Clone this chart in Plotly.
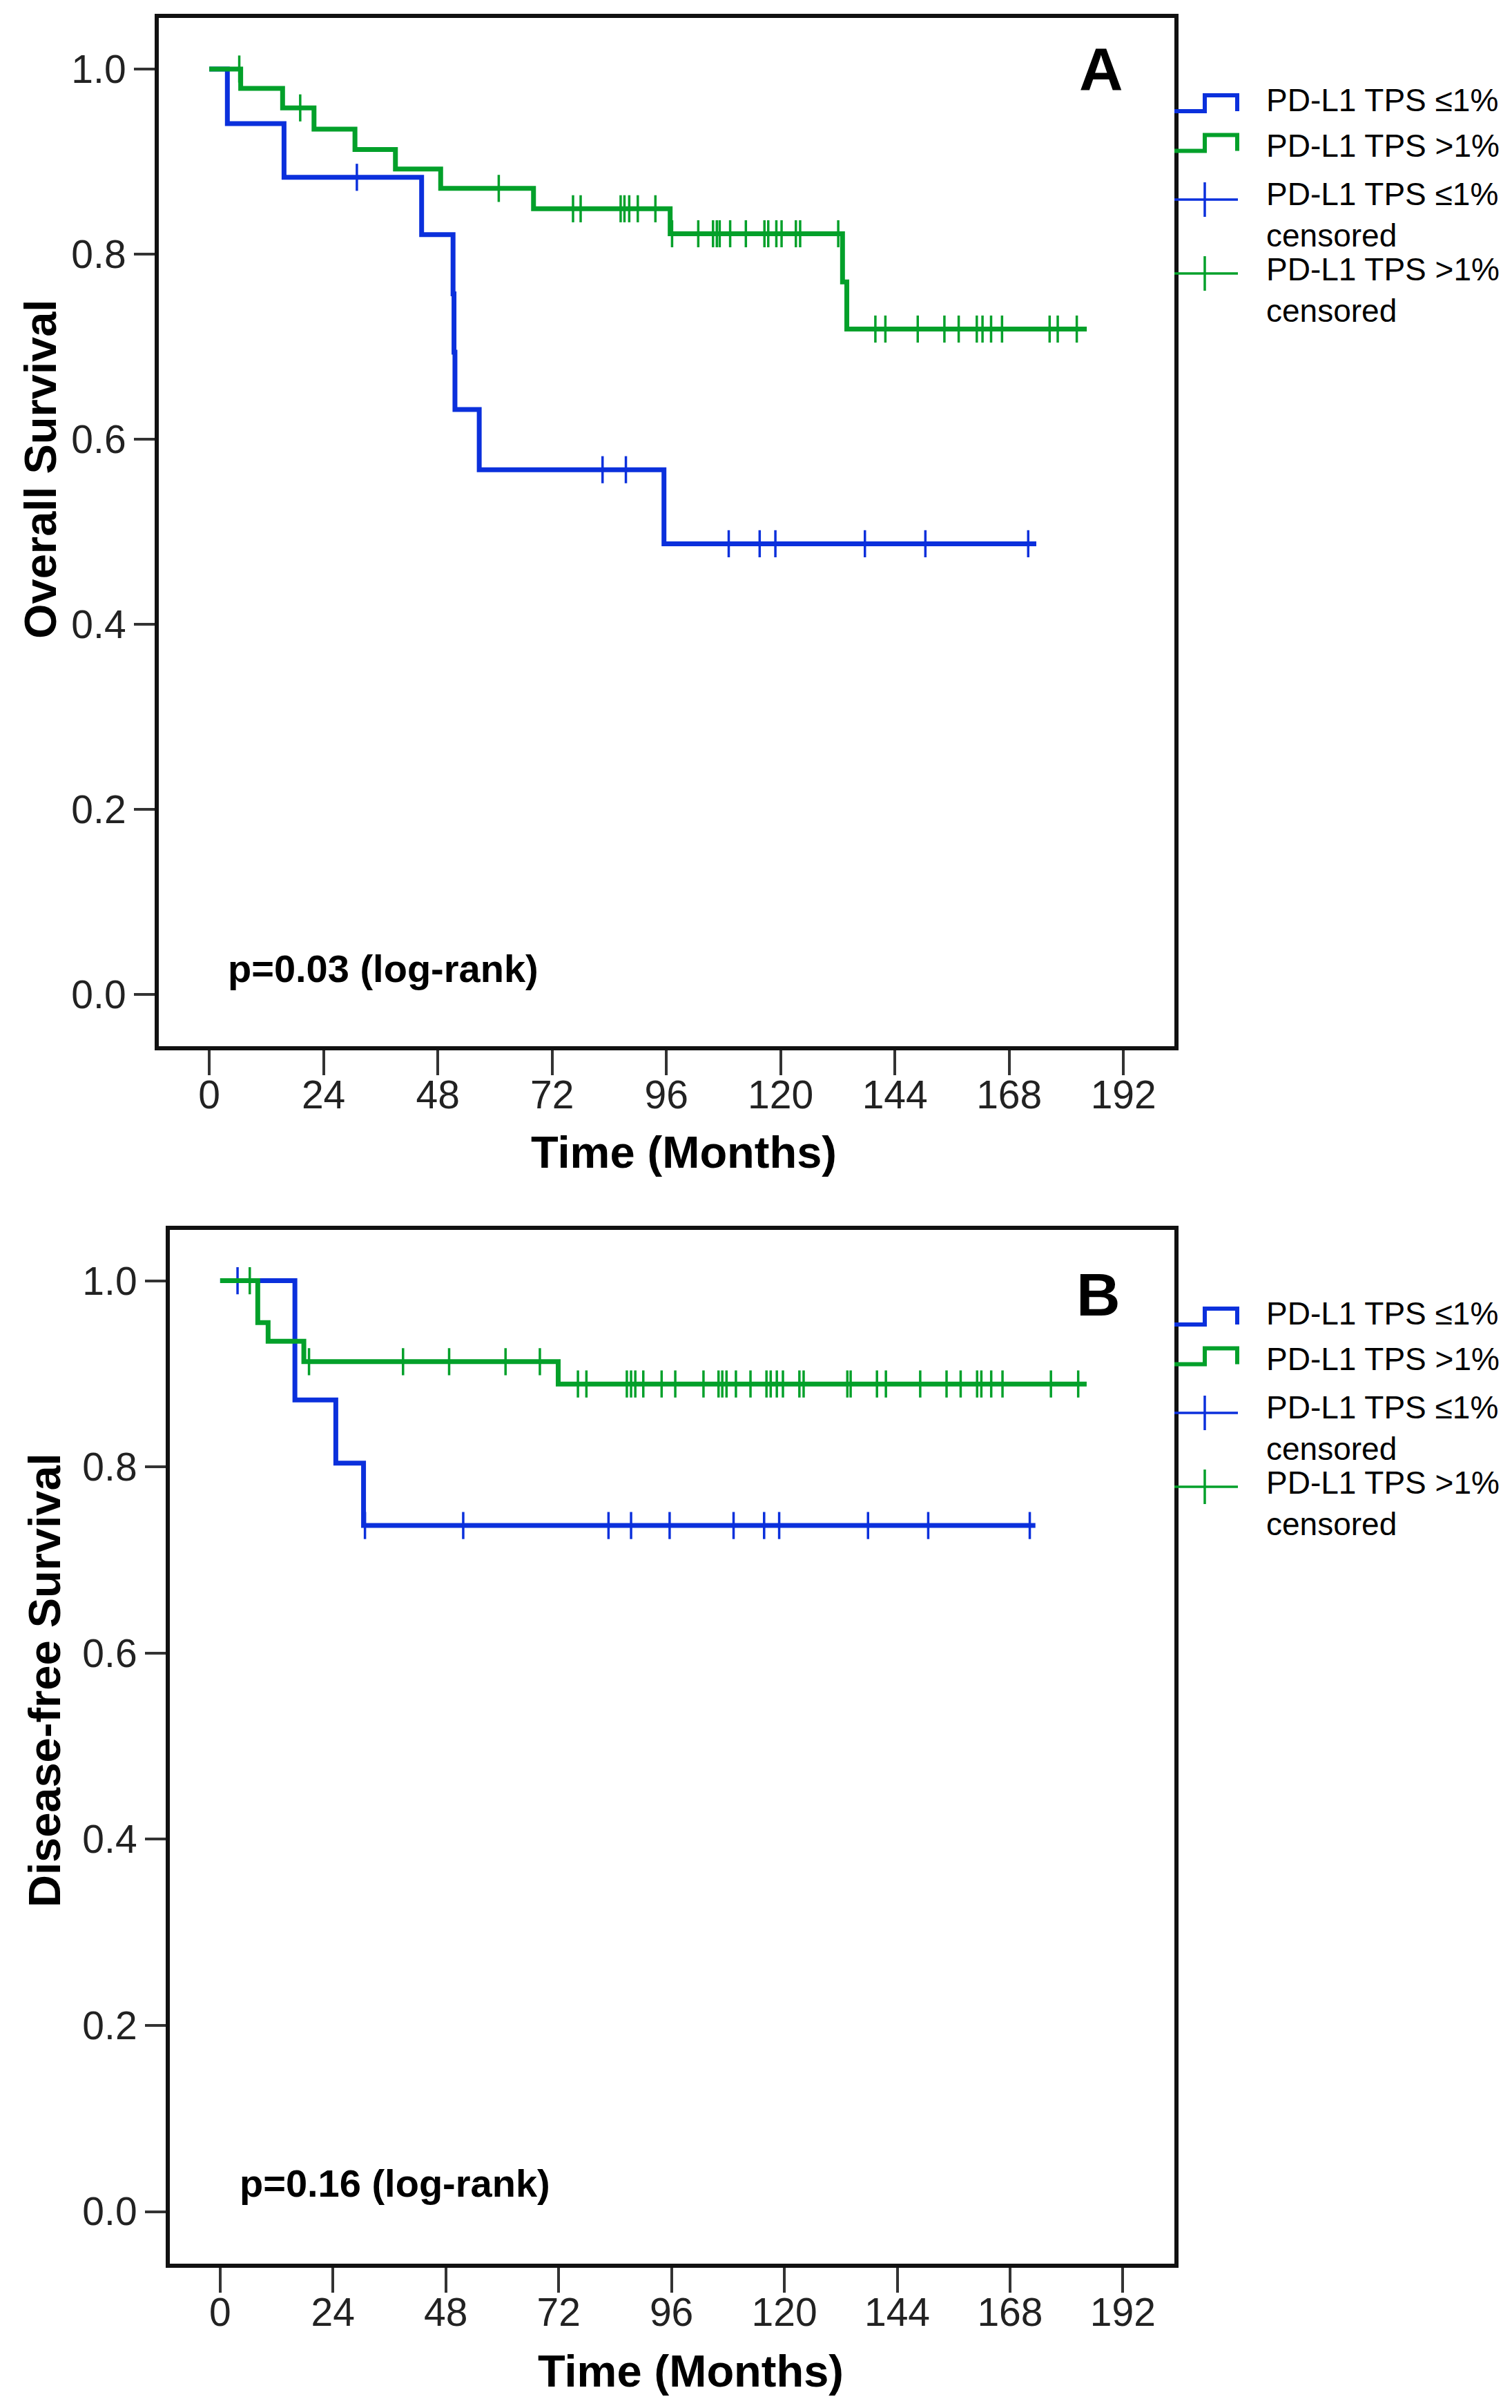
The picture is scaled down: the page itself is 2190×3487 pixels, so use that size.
import numpy as np
import plotly.graph_objects as go

W, H = 2190, 3487
BLUE = "#0b30dc"
GREEN = "#03a02a"
FONT = "Liberation Sans, Arial, sans-serif"

# Panel A - overall survival (months, KM estimate)
os_low_time = [0, 3.8, 15.7, 44.6, 51.2, 51.4, 51.6, 56.7, 95.5, 173.7]
os_low_surv = [1.0, 0.941, 0.883, 0.821, 0.757, 0.694, 0.632, 0.567, 0.487, 0.487]
os_low_cens = [31.0, 82.6, 87.5, 109.1, 115.6, 118.9, 137.7, 150.4, 172.0]

os_high_time = [0, 6.6, 15.4, 22.0, 30.6, 39.1, 48.6, 68.1, 96.8, 133.0, 133.9, 184.3]
os_high_surv = [1.0, 0.979, 0.958, 0.935, 0.913, 0.892, 0.871, 0.849, 0.822, 0.770, 0.719, 0.719]
os_high_cens = [6.3, 19.1, 60.8, 76.4, 78.0, 86.4, 87.2, 88.2, 90.0, 93.7, 97.2, 102.7,
                105.8, 106.6, 107.2, 109.4, 112.7, 116.6, 117.4, 119.1, 120.2, 123.2,
                124.1, 132.1, 139.9, 142.0, 148.8, 154.4, 157.4, 161.2, 162.4, 164.2,
                166.5, 176.5, 178.2, 182.2]

# Panel B - disease-free survival
dfs_low_time = [0, 15.9, 24.6, 30.5, 173.4]
dfs_low_surv = [1.0, 0.872, 0.804, 0.737, 0.737]
dfs_low_cens = [3.7, 30.8, 51.7, 82.6, 87.4, 95.6, 109.2, 115.7, 118.9, 137.8, 150.6, 172.2]

dfs_high_time = [0, 8.0, 10.2, 17.8, 71.9, 184.3]
dfs_high_surv = [1.0, 0.955, 0.935, 0.913, 0.889, 0.889]
dfs_high_cens = [6.3, 18.9, 38.9, 48.7, 60.7, 68.0, 76.1, 77.9, 86.5, 87.4, 88.3, 90.0,
                 93.9, 96.8, 102.8, 106.0, 106.8, 107.7, 109.7, 112.8, 116.2, 117.1,
                 118.4, 119.7, 123.2, 124.1, 133.4, 134.1, 139.7, 141.6, 148.9, 154.5,
                 157.5, 161.0, 161.9, 164.0, 166.4, 176.7, 182.5]

x_ticks = [0, 24, 48, 72, 96, 120, 144, 168, 192]
y_ticks = [0.0, 0.2, 0.4, 0.6, 0.8, 1.0]
y_ticktext = ["0.0", "0.2", "0.4", "0.6", "0.8", "1.0"]

legend_labels = ["PD-L1 TPS ≤1%", "PD-L1 TPS >1%",
                 "PD-L1 TPS ≤1%<br>censored", "PD-L1 TPS >1%<br>censored"]


def surv_at(times, surv, t):
    idx = np.searchsorted(np.array(times), np.array(t), side="right") - 1
    return np.array(surv)[idx]


fig = go.Figure()


def add_km(times, surv, cens, color, xa, ya):
    fig.add_trace(go.Scatter(x=times, y=surv, mode="lines", line_shape="hv",
                             line=dict(color=color, width=7),
                             xaxis=xa, yaxis=ya, showlegend=False, hoverinfo="skip"))
    fig.add_trace(go.Scatter(x=cens, y=surv_at(times, surv, cens), mode="markers",
                             marker=dict(symbol="line-ns", size=28,
                                         line=dict(color=color, width=3.5)),
                             xaxis=xa, yaxis=ya, showlegend=False, hoverinfo="skip"))


add_km(os_low_time, os_low_surv, os_low_cens, BLUE, "x", "y")
add_km(os_high_time, os_high_surv, os_high_cens, GREEN, "x", "y")
add_km(dfs_low_time, dfs_low_surv, dfs_low_cens, BLUE, "x2", "y2")
add_km(dfs_high_time, dfs_high_surv, dfs_high_cens, GREEN, "x2", "y2")

axis_common = dict(showline=True, mirror=True, linewidth=6, linecolor="#111",
                   showgrid=False, zeroline=False, ticks="outside", tickwidth=4,
                   tickcolor="#333", tickfont=dict(family=FONT, size=57, color="#222"))

fig.update_layout(
    width=W, height=H, margin=dict(l=0, r=0, t=0, b=0),
    plot_bgcolor="white", paper_bgcolor="white",
    xaxis=dict(domain=[222 / W, 1693 / W], range=[-10.6, 202.7], tickvals=x_ticks,
               ticklen=36, ticklabelstandoff=-20, anchor="y", **axis_common),
    yaxis=dict(domain=[1 - 1507 / H, 1 - 18 / H], range=[-0.056, 1.0552],
               tickvals=y_ticks, ticktext=y_ticktext, ticklen=30, anchor="x", **axis_common),
    xaxis2=dict(domain=[238 / W, 1692.6 / W], range=[-10.7, 202.9], tickvals=x_ticks,
                ticklen=36, ticklabelstandoff=-20, anchor="y2", **axis_common),
    yaxis2=dict(domain=[1 - 3270 / H, 1 - 1773 / H], range=[-0.056, 1.0546],
                tickvals=y_ticks, ticktext=y_ticktext, ticklen=30, anchor="x2", **axis_common),
)


def px(x, y):
    return x / W, 1 - y / H


def note(text, x, y, size, bold=False, xanchor="center", angle=0):
    fx, fy = px(x, y)
    fig.add_annotation(text=text, x=fx, y=fy, xref="paper", yref="paper",
                       xanchor=xanchor, yanchor="middle", showarrow=False, textangle=angle,
                       align="left",
                       font=dict(family=FONT, size=size, color="#000",
                                 weight="bold" if bold else "normal"))


# titles, panel letters and p-values
note("Overall Survival", 50, 672, 65, bold=True, angle=-90)
note("Disease-free Survival", 56, 2425, 65, bold=True, angle=-90)
note("Time (Months)", 982, 1661, 65, bold=True)
note("Time (Months)", 992, 3425, 65, bold=True)
note("A", 1587, 92, 88, bold=True)
note("B", 1583, 1866, 88, bold=True)
note("p=0.03 (log-rank)", 320, 1394, 56, bold=True, xanchor="left")
note("p=0.16 (log-rank)", 337, 3153, 56, bold=True, xanchor="left")


# hand-drawn legends next to each panel (SPSS style step / cross symbols)
def legend(dy):
    for color, low, high in [(BLUE, 153, 130), (GREEN, 210.5, 187.5)]:
        pts = [(1693, low + dy), (1737, low + dy), (1737, high + dy),
               (1784, high + dy), (1784, low + dy)]
        path = "M" + " L".join("%.5f,%.5f" % px(a, b) for a, b in pts)
        fig.add_shape(type="path", path=path, xref="paper", yref="paper",
                      line=dict(color=color, width=6))
    for color, yc in [(BLUE, 281), (GREEN, 388)]:
        x0, y0 = px(1693, yc + dy)
        x1, _ = px(1785, yc + dy)
        fig.add_shape(type="line", x0=x0, x1=x1, y0=y0, y1=y0, xref="paper", yref="paper",
                      line=dict(color=color, width=3.5))
        xm, ya = px(1737, yc - 25 + dy)
        _, yb = px(1737, yc + 25 + dy)
        fig.add_shape(type="line", x0=xm, x1=xm, y0=ya, y1=yb, xref="paper", yref="paper",
                      line=dict(color=color, width=3.5))
    for lab, yc in zip(legend_labels, [137, 203, 303, 412]):
        note(lab, 1824, yc + dy, 46, xanchor="left")


legend(0)
legend(1757)

fig.write_html("out.html")
